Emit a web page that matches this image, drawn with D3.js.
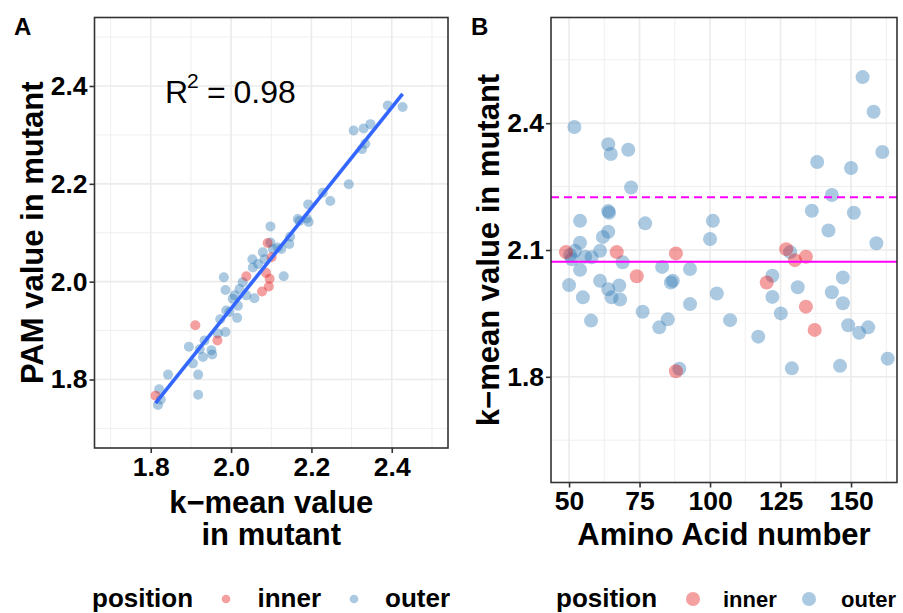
<!DOCTYPE html>
<html>
<head>
<meta charset="utf-8">
<script src="https://cdn.jsdelivr.net/npm/d3@7"></script>
<style>
  body { margin: 0; background: #fff; }
</style>
</head>
<body>
<script>
// panel A: k-mean vs PAM
var aKmean = [2.427, 2.390, 2.305, 2.330, 2.347, 2.334, 2.326, 2.293, 2.228, 2.247,
    2.192, 2.166, 2.188, 2.193, 2.170, 2.098, 2.147, 2.145, 2.116, 2.125,
    2.104, 2.098, 2.079, 2.053, 2.083, 2.054, 2.067, 2.131, 1.982, 1.986,
    2.029, 2.021, 2.038, 2.009, 2.058, 2.004, 2.017, 1.988, 1.996, 2.015,
    1.973, 1.986, 1.967, 1.934, 1.895, 1.922, 1.951, 1.930, 1.953, 1.905,
    1.918, 1.843, 1.821, 1.825, 1.818, 1.918,
    2.091, 2.101, 2.038, 2.087, 2.096, 2.094, 2.077, 1.911, 1.966, 1.812];
var aPam = [2.357, 2.360, 2.309, 2.313, 2.322, 2.282, 2.271, 2.199, 2.182, 2.165,
    2.158, 2.128, 2.129, 2.122, 2.124, 2.113, 2.092, 2.077, 2.070, 2.067,
    2.067, 2.080, 2.060, 2.046, 2.046, 2.029, 2.036, 2.011, 2.009, 1.983,
    1.999, 1.985, 1.972, 1.972, 1.966, 1.965, 1.951, 1.941, 1.938, 1.926,
    1.923, 1.897, 1.894, 1.880, 1.867, 1.862, 1.860, 1.846, 1.851, 1.833,
    1.810, 1.810, 1.780, 1.759, 1.748, 1.769,
    2.079, 2.050, 2.011, 2.018, 2.006, 1.990, 1.980, 1.911, 1.880, 1.767];
var aPos = [];
for (var i = 0; i < 56; i++) aPos.push("outer");
aPos = aPos.concat(["inner", "inner", "inner", "inner", "inner", "inner", "inner", "inner", "inner", "inner"]);

// panel B: amino acid number vs k-mean
var bAmino = [51.9, 63.9, 64.8, 71.0, 72.0, 63.9, 64.2, 53.9, 77.0, 63.9,
    62.0, 53.9, 61.0, 52.1, 50.4, 51.0, 55.7, 58.0, 69.0, 53.9,
    50.0, 61.0, 63.9, 65.1, 67.8, 68.1, 54.9, 57.8, 76.1, 83.0,
    86.8, 86.1, 92.9, 92.9, 85.0, 82.0, 89.1, 101.0, 100.0, 102.4,
    154.1, 158.0, 161.1, 138.0, 150.0, 143.2, 136.1, 151.0, 142.0, 159.0,
    128.4, 122.1, 131.1, 122.1, 143.2, 147.1, 147.1, 125.1, 107.1, 149.0,
    152.9, 156.1, 117.1, 129.0, 146.1, 163.0,
    48.9, 66.9, 87.9, 74.0, 87.9, 127.0, 130.1, 134.0, 120.1, 134.0, 137.1];
var bKmean = [2.391, 2.350, 2.327, 2.337, 2.248, 2.192, 2.188, 2.169, 2.163, 2.143,
    2.131, 2.117, 2.098, 2.098, 2.088, 2.078, 2.084, 2.083, 2.071, 2.053,
    2.017, 2.027, 2.007, 1.988, 2.016, 1.983, 1.988, 1.933, 1.954, 2.060,
    2.027, 2.023, 2.055, 1.972, 1.936, 1.917, 1.819, 2.169, 2.126, 1.997,
    2.509, 2.427, 2.332, 2.308, 2.294, 2.230, 2.193, 2.188, 2.146, 2.116,
    2.095, 2.039, 2.012, 1.989, 2.000, 2.035, 1.974, 1.950, 1.934, 1.922,
    1.904, 1.917, 1.895, 1.820, 1.826, 1.843,
    2.095, 2.095, 2.092, 2.038, 1.813, 2.102, 2.076, 2.084, 2.023, 1.966, 1.911];
var bPos = [];
for (var j = 0; j < 66; j++) bPos.push("outer");
bPos = bPos.concat(["inner", "inner", "inner", "inner", "inner", "inner", "inner", "inner", "inner", "inner", "inner"]);

var meanLine = 2.072;   // solid
var upperLine = 2.225;  // dashed
var rSquared = "0.98";

var ticksA = [1.8, 2.0, 2.2, 2.4];
var minorA = [1.7, 1.9, 2.1, 2.3, 2.5];
var xTicksB = [50, 75, 100, 125, 150];
var xMinorB = [62.5, 87.5, 112.5, 137.5, 162.5];
var yTicksB = [1.8, 2.1, 2.4];
var yMinorB = [1.65, 1.95, 2.25, 2.55];
var positions = ["inner", "outer"];

var font = "'Liberation Sans', Arial, sans-serif";
var color = d3.scaleOrdinal().domain(positions).range(["#E41A1C", "#377EB8"]);

var svg = d3.select("body")
    .append("svg")
    .attr("width", 903)
    .attr("height", 613);

var xA = d3.scaleLinear().domain([1.66, 2.54]).range([94.5, 448]);
var yA = d3.scaleLinear().domain([1.66, 2.54]).range([448, 17.5]);
var xB = d3.scaleLinear().domain([43.6, 166.3]).range([551, 897]);
var yB = d3.scaleLinear().domain([1.55, 2.65]).range([482.5, 17.5]);

function drawGrid(xs, ys, xMaj, xMin, yMaj, yMin) {
    var g = svg.append("g");
    var x0 = xs.range()[0], x1 = xs.range()[1];
    var y0 = ys.range()[1], y1 = ys.range()[0];
    g.selectAll(".vmin").data(xMin.filter(function(d) { return xs(d) > x0 && xs(d) < x1; }))
        .enter().append("line")
        .attr("x1", function(d) { return xs(d); }).attr("x2", function(d) { return xs(d); })
        .attr("y1", y0).attr("y2", y1)
        .attr("stroke", "#EBEBEB").attr("stroke-width", 0.8);
    g.selectAll(".hmin").data(yMin.filter(function(d) { return ys(d) > y0 && ys(d) < y1; }))
        .enter().append("line")
        .attr("y1", function(d) { return ys(d); }).attr("y2", function(d) { return ys(d); })
        .attr("x1", x0).attr("x2", x1)
        .attr("stroke", "#EBEBEB").attr("stroke-width", 0.8);
    g.selectAll(".vmaj").data(xMaj)
        .enter().append("line")
        .attr("x1", function(d) { return xs(d); }).attr("x2", function(d) { return xs(d); })
        .attr("y1", y0).attr("y2", y1)
        .attr("stroke", "#EBEBEB").attr("stroke-width", 1.6);
    g.selectAll(".hmaj").data(yMaj)
        .enter().append("line")
        .attr("y1", function(d) { return ys(d); }).attr("y2", function(d) { return ys(d); })
        .attr("x1", x0).attr("x2", x1)
        .attr("stroke", "#EBEBEB").attr("stroke-width", 1.6);
}

function drawBorder(xs, ys) {
    svg.append("rect")
        .attr("x", xs.range()[0])
        .attr("y", ys.range()[1])
        .attr("width", xs.range()[1] - xs.range()[0])
        .attr("height", ys.range()[0] - ys.range()[1])
        .attr("fill", "none")
        .attr("stroke", "#333333")
        .attr("stroke-width", 1.6);
}

function styleAxis(g, size) {
    g.select(".domain").remove();
    g.selectAll(".tick line").attr("stroke", "#333333").attr("stroke-width", 1.6);
    g.selectAll(".tick text")
        .attr("fill", "#000")
        .attr("font-size", size)
        .attr("font-weight", "bold")
        .attr("font-family", font);
}

// ---------- panel A ----------
drawGrid(xA, yA, ticksA, minorA, ticksA, minorA);

svg.append("g")
    .selectAll("circle")
    .data(aKmean)
    .enter()
    .append("circle")
    .attr("cx", function(d) { return xA(d); })
    .attr("cy", function(d, i) { return yA(aPam[i]); })
    .attr("r", 5)
    .attr("fill", function(d, i) { return color(aPos[i]); })
    .attr("fill-opacity", 0.42);

// least squares line over the data range
var mx = d3.mean(aKmean), my = d3.mean(aPam);
var sxy = d3.sum(aKmean, function(d, i) { return (d - mx) * (aPam[i] - my); });
var sxx = d3.sum(aKmean, function(d) { return (d - mx) * (d - mx); });
var slope = sxy / sxx, icpt = my - slope * mx;
var fitX = d3.extent(aKmean);

svg.append("line")
    .attr("x1", xA(fitX[0])).attr("y1", yA(icpt + slope * fitX[0]))
    .attr("x2", xA(fitX[1])).attr("y2", yA(icpt + slope * fitX[1]))
    .attr("stroke", "#3366FF")
    .attr("stroke-width", 3.6);

drawBorder(xA, yA);

svg.append("g")
    .attr("transform", "translate(94.5,0)")
    .call(d3.axisLeft(yA).tickValues(ticksA).tickSize(5).tickPadding(2).tickFormat(d3.format(".1f")))
    .call(styleAxis, 26.5);

svg.append("g")
    .attr("transform", "translate(0,448)")
    .call(d3.axisBottom(xA).tickValues(ticksA).tickSize(5).tickPadding(4).tickFormat(d3.format(".1f")))
    .call(styleAxis, 26.5);

// R^2 label
var r2 = svg.append("g").attr("font-family", font).attr("fill", "#000");
r2.append("text").attr("x", 165).attr("y", 102.5).attr("font-size", 32).text("R");
r2.append("text").attr("x", 187).attr("y", 87.5).attr("font-size", 21).text("2");
r2.append("text").attr("x", 207).attr("y", 102.5).attr("font-size", 32).text("=");
r2.append("text").attr("x", 233.5).attr("y", 102.5).attr("font-size", 32).text(rSquared);

// ---------- panel B ----------
drawGrid(xB, yB, xTicksB, xMinorB, yTicksB, yMinorB);

svg.append("g")
    .selectAll("circle")
    .data(bAmino)
    .enter()
    .append("circle")
    .attr("cx", function(d) { return xB(d); })
    .attr("cy", function(d, i) { return yB(bKmean[i]); })
    .attr("r", 7)
    .attr("fill", function(d, i) { return color(bPos[i]); })
    .attr("fill-opacity", 0.42);

svg.append("line")
    .attr("x1", xB.range()[0]).attr("x2", xB.range()[1])
    .attr("y1", yB(meanLine)).attr("y2", yB(meanLine))
    .attr("stroke", "#FF00FF").attr("stroke-width", 2);

svg.append("line")
    .attr("x1", xB.range()[0]).attr("x2", xB.range()[1])
    .attr("y1", yB(upperLine)).attr("y2", yB(upperLine))
    .attr("stroke", "#FF00FF").attr("stroke-width", 2)
    .attr("stroke-dasharray", "8,5");

drawBorder(xB, yB);

svg.append("g")
    .attr("transform", "translate(551,0)")
    .call(d3.axisLeft(yB).tickValues(yTicksB).tickSize(5).tickPadding(2).tickFormat(d3.format(".1f")))
    .call(styleAxis, 26.5);

svg.append("g")
    .attr("transform", "translate(0,482.5)")
    .call(d3.axisBottom(xB).tickValues(xTicksB).tickSize(5).tickPadding(4))
    .call(styleAxis, 26.5);

// ---------- titles ----------
var titles = svg.append("g")
    .attr("font-family", font)
    .attr("font-weight", "bold")
    .attr("fill", "#000");

titles.append("text").attr("x", 14).attr("y", 35).attr("font-size", 24).text("A");
titles.append("text").attr("x", 471).attr("y", 35).attr("font-size", 24).text("B");

titles.append("text")
    .attr("transform", "translate(43," + (yA.range()[0] + yA.range()[1]) / 2 + ") rotate(-90)")
    .attr("text-anchor", "middle")
    .attr("font-size", 31)
    .text("PAM value in mutant");

titles.append("text")
    .attr("transform", "translate(499," + (yB.range()[0] + yB.range()[1]) / 2 + ") rotate(-90)")
    .attr("text-anchor", "middle")
    .attr("font-size", 31)
    .text("k\u2212mean value in mutant");

var midA = (xA.range()[0] + xA.range()[1]) / 2;
titles.append("text").attr("x", midA).attr("y", 513).attr("text-anchor", "middle")
    .attr("font-size", 31).text("k\u2212mean value");
titles.append("text").attr("x", midA).attr("y", 545).attr("text-anchor", "middle")
    .attr("font-size", 31).text("in mutant");

titles.append("text")
    .attr("x", (xB.range()[0] + xB.range()[1]) / 2)
    .attr("y", 545)
    .attr("text-anchor", "middle")
    .attr("font-size", 31)
    .text("Amino Acid number");

// ---------- legends ----------
function buildLegend(x0, dotR, labelSize, xs) {
    var lg = svg.append("g")
        .attr("font-family", font)
        .attr("font-weight", "bold")
        .attr("fill", "#000");
    lg.append("text").attr("x", x0).attr("y", 607).attr("font-size", 26).text("position");
    var items = lg.selectAll(".item")
        .data(positions)
        .enter()
        .append("g");
    items.append("circle")
        .attr("cx", function(d, i) { return xs[i][0]; })
        .attr("cy", 599)
        .attr("r", dotR)
        .attr("fill", function(d) { return color(d); })
        .attr("fill-opacity", 0.42);
    items.append("text")
        .attr("x", function(d, i) { return xs[i][1]; })
        .attr("y", 607)
        .attr("font-size", labelSize)
        .text(function(d) { return d; });
}

buildLegend(92, 4.3, 26, [[226, 257.5], [354, 385]]);
buildLegend(556, 7, 22, [[693, 723], [809, 841]]);
</script>
</body>
</html>
